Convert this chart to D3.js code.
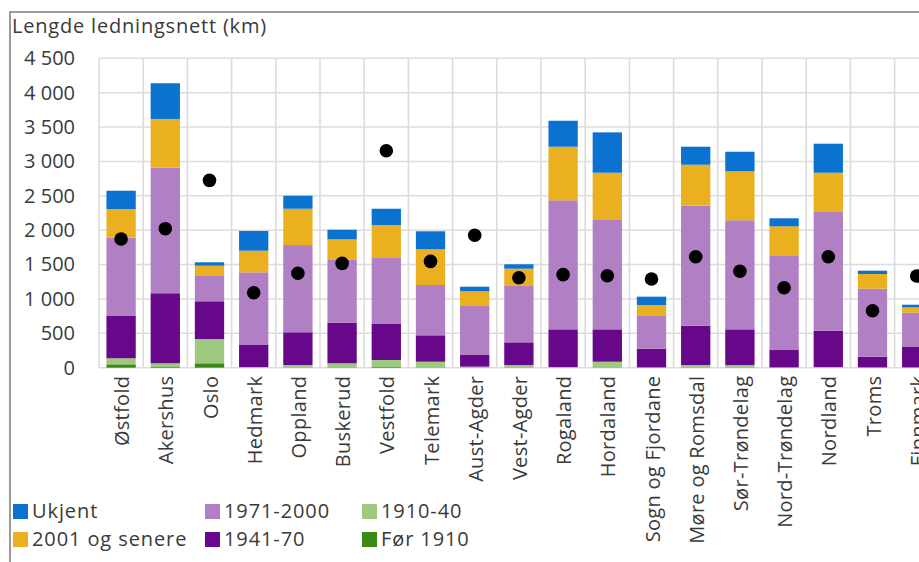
<!DOCTYPE html>
<html>
<head>
<meta charset="utf-8">
<script src="https://cdn.jsdelivr.net/npm/d3@7"></script>
<style>
  html, body { margin: 0; padding: 0; background: #fff; }
  svg { display: block; font-family: "Open Sans", "Noto Sans", sans-serif; }
</style>
</head>
<body>
<svg id="chart" width="919" height="562"></svg>
<script>
// Fylker (counties)
const categories = ["Østfold", "Akershus", "Oslo", "Hedmark", "Oppland", "Buskerud", "Vestfold",
  "Telemark", "Aust-Agder", "Vest-Agder", "Rogaland", "Hordaland", "Sogn og Fjordane",
  "Møre og Romsdal", "Sør-Trøndelag", "Nord-Trøndelag", "Nordland", "Troms", "Finnmark"];

// Length of pipe network (km) by construction period
const fOr1910   = [49, 10, 64, 0, 5, 5, 10, 5, 0, 5, 0, 5, 0, 5, 5, 0, 0, 0, 0];
const p1910_40  = [88, 55, 353, 10, 34, 59, 102, 82, 15, 34, 10, 82, 5, 34, 34, 5, 10, 5, 5];
const p1941_70  = [615, 1018, 549, 320, 476, 590, 524, 384, 170, 330, 548, 471, 271, 572, 519, 252, 528, 155, 296];
const p1971_00  = [1139, 1827, 378, 1057, 1269, 922, 969, 732, 712, 829, 1877, 1590, 476, 1745, 1586, 1368, 1726, 989, 499];
const p2001     = [417, 708, 139, 315, 528, 291, 470, 519, 214, 242, 779, 688, 160, 596, 712, 431, 572, 214, 78];
const ukjent    = [266, 519, 50, 286, 189, 140, 237, 262, 67, 64, 378, 587, 121, 262, 285, 117, 422, 48, 38];

// Point series shown as black dots
const pointValues = [1872, 2022, 2725, 1091, 1373, 1518, 3156, 1547, 1926, 1309, 1353, 1338, 1290, 1614, 1402, 1163, 1614, 829, 1334];

const seriesNames = ["Før 1910", "1910-40", "1941-70", "1971-2000", "2001 og senere", "Ukjent"];
const seriesValues = [fOr1910, p1910_40, p1941_70, p1971_00, p2001, ukjent];
const seriesColors = ["#3b8a17", "#9dca7f", "#67078a", "#b17fc3", "#ebb01f", "#0b72d0"];

const yTicks = [0, 500, 1000, 1500, 2000, 2500, 3000, 3500, 4000, 4500];

const svg = d3.select("#chart");
const textColor = "#3a3a3a";

const x = d3.scaleBand()
  .domain(categories)
  .range([99, 99 + 44.2 * categories.length])
  .paddingInner(0.337)
  .paddingOuter(0.1685);

const y = d3.scaleLinear().domain([0, 4500]).range([367.7, 58.3]);

// outer frame (top and left edges)
svg.append("path")
  .attr("d", "M10,562 L10,12 L925,12")
  .attr("fill", "none")
  .attr("stroke", "#7a7a7a")
  .attr("stroke-width", 1.5);

// title
svg.append("text")
  .attr("x", 12).attr("y", 33)
  .attr("font-size", 20)
  .attr("letter-spacing", 0.8)
  .attr("fill", textColor)
  .text("Lengde ledningsnett (km)");

// gridlines
const grid = svg.append("g").attr("stroke", "#dcdcdc").attr("stroke-width", 1.6);
grid.selectAll("line.h").data(yTicks).join("line")
  .attr("class", "h")
  .attr("x1", x.range()[0]).attr("x2", x.range()[1])
  .attr("y1", d => y(d)).attr("y2", d => y(d));
const bounds = categories.map((c, i) => x.range()[0] + i * x.step()).concat([x.range()[1]]);
grid.selectAll("line.v").data(bounds).join("line")
  .attr("class", "v")
  .attr("x1", d => d).attr("x2", d => d)
  .attr("y1", y(4500)).attr("y2", y(0));

// y axis labels
const yAxis = d3.axisLeft(y).tickValues(yTicks).tickSize(0).tickPadding(0)
  .tickFormat(d => d3.format(",")(d).replace(",", " "));
svg.append("g")
  .attr("transform", "translate(75,0)")
  .call(yAxis)
  .call(g => g.select(".domain").remove())
  .call(g => g.selectAll("text")
    .attr("font-size", 20)
    .attr("font-family", "\"Open Sans\", sans-serif")
    .attr("fill", textColor));

// stacked bars
const rows = categories.map((c, i) => {
  const r = { cat: c };
  seriesNames.forEach((s, k) => { r[s] = seriesValues[k][i]; });
  return r;
});
const stacked = d3.stack().keys(seriesNames)(rows);

svg.append("g").selectAll("g")
  .data(stacked)
  .join("g")
  .attr("fill", (d, k) => seriesColors[k])
  .selectAll("rect")
  .data(d => d)
  .join("rect")
  .attr("x", d => x(d.data.cat))
  .attr("width", x.bandwidth())
  .attr("y", d => y(d[1]))
  .attr("height", d => Math.max(0, y(d[0]) - y(d[1])));

// dots
svg.append("g").selectAll("circle")
  .data(pointValues)
  .join("circle")
  .attr("cx", (d, i) => x(categories[i]) + x.bandwidth() / 2)
  .attr("cy", d => y(d))
  .attr("r", 6.8)
  .attr("fill", "#000");

// category labels, rotated
const xAxis = d3.axisBottom(x).tickSize(0).tickPadding(0);
svg.append("g")
  .attr("transform", `translate(0,${y(0)})`)
  .call(xAxis)
  .call(g => g.select(".domain").remove())
  .call(g => g.selectAll("text")
    .attr("font-size", 20)
    .attr("font-family", "\"Open Sans\", sans-serif")
    .attr("letter-spacing", 0.3)
    .attr("fill", textColor)
    .attr("text-anchor", "end")
    .attr("transform", "translate(1,8) rotate(-90)")
    .attr("x", 0)
    .attr("y", 0)
    .attr("dy", "0.35em"));

// legend
const legendOrder = [
  { name: "Ukjent", col: 0, row: 0 },
  { name: "2001 og senere", col: 0, row: 1 },
  { name: "1971-2000", col: 1, row: 0 },
  { name: "1941-70", col: 1, row: 1 },
  { name: "1910-40", col: 2, row: 0 },
  { name: "Før 1910", col: 2, row: 1 }
];
const colX = [13, 205, 362];
const rowY = [511, 539];
const legend = svg.append("g").selectAll("g")
  .data(legendOrder)
  .join("g")
  .attr("transform", d => `translate(${colX[d.col]},${rowY[d.row]})`);
legend.append("rect")
  .attr("x", 0).attr("y", -7).attr("width", 15).attr("height", 15)
  .attr("fill", d => seriesColors[seriesNames.indexOf(d.name)]);
legend.append("text")
  .attr("x", 19).attr("y", 0).attr("dy", "0.35em")
  .attr("font-size", 20)
  .attr("letter-spacing", 0.9)
  .attr("fill", textColor)
  .text(d => d.name);
</script>
</body>
</html>
